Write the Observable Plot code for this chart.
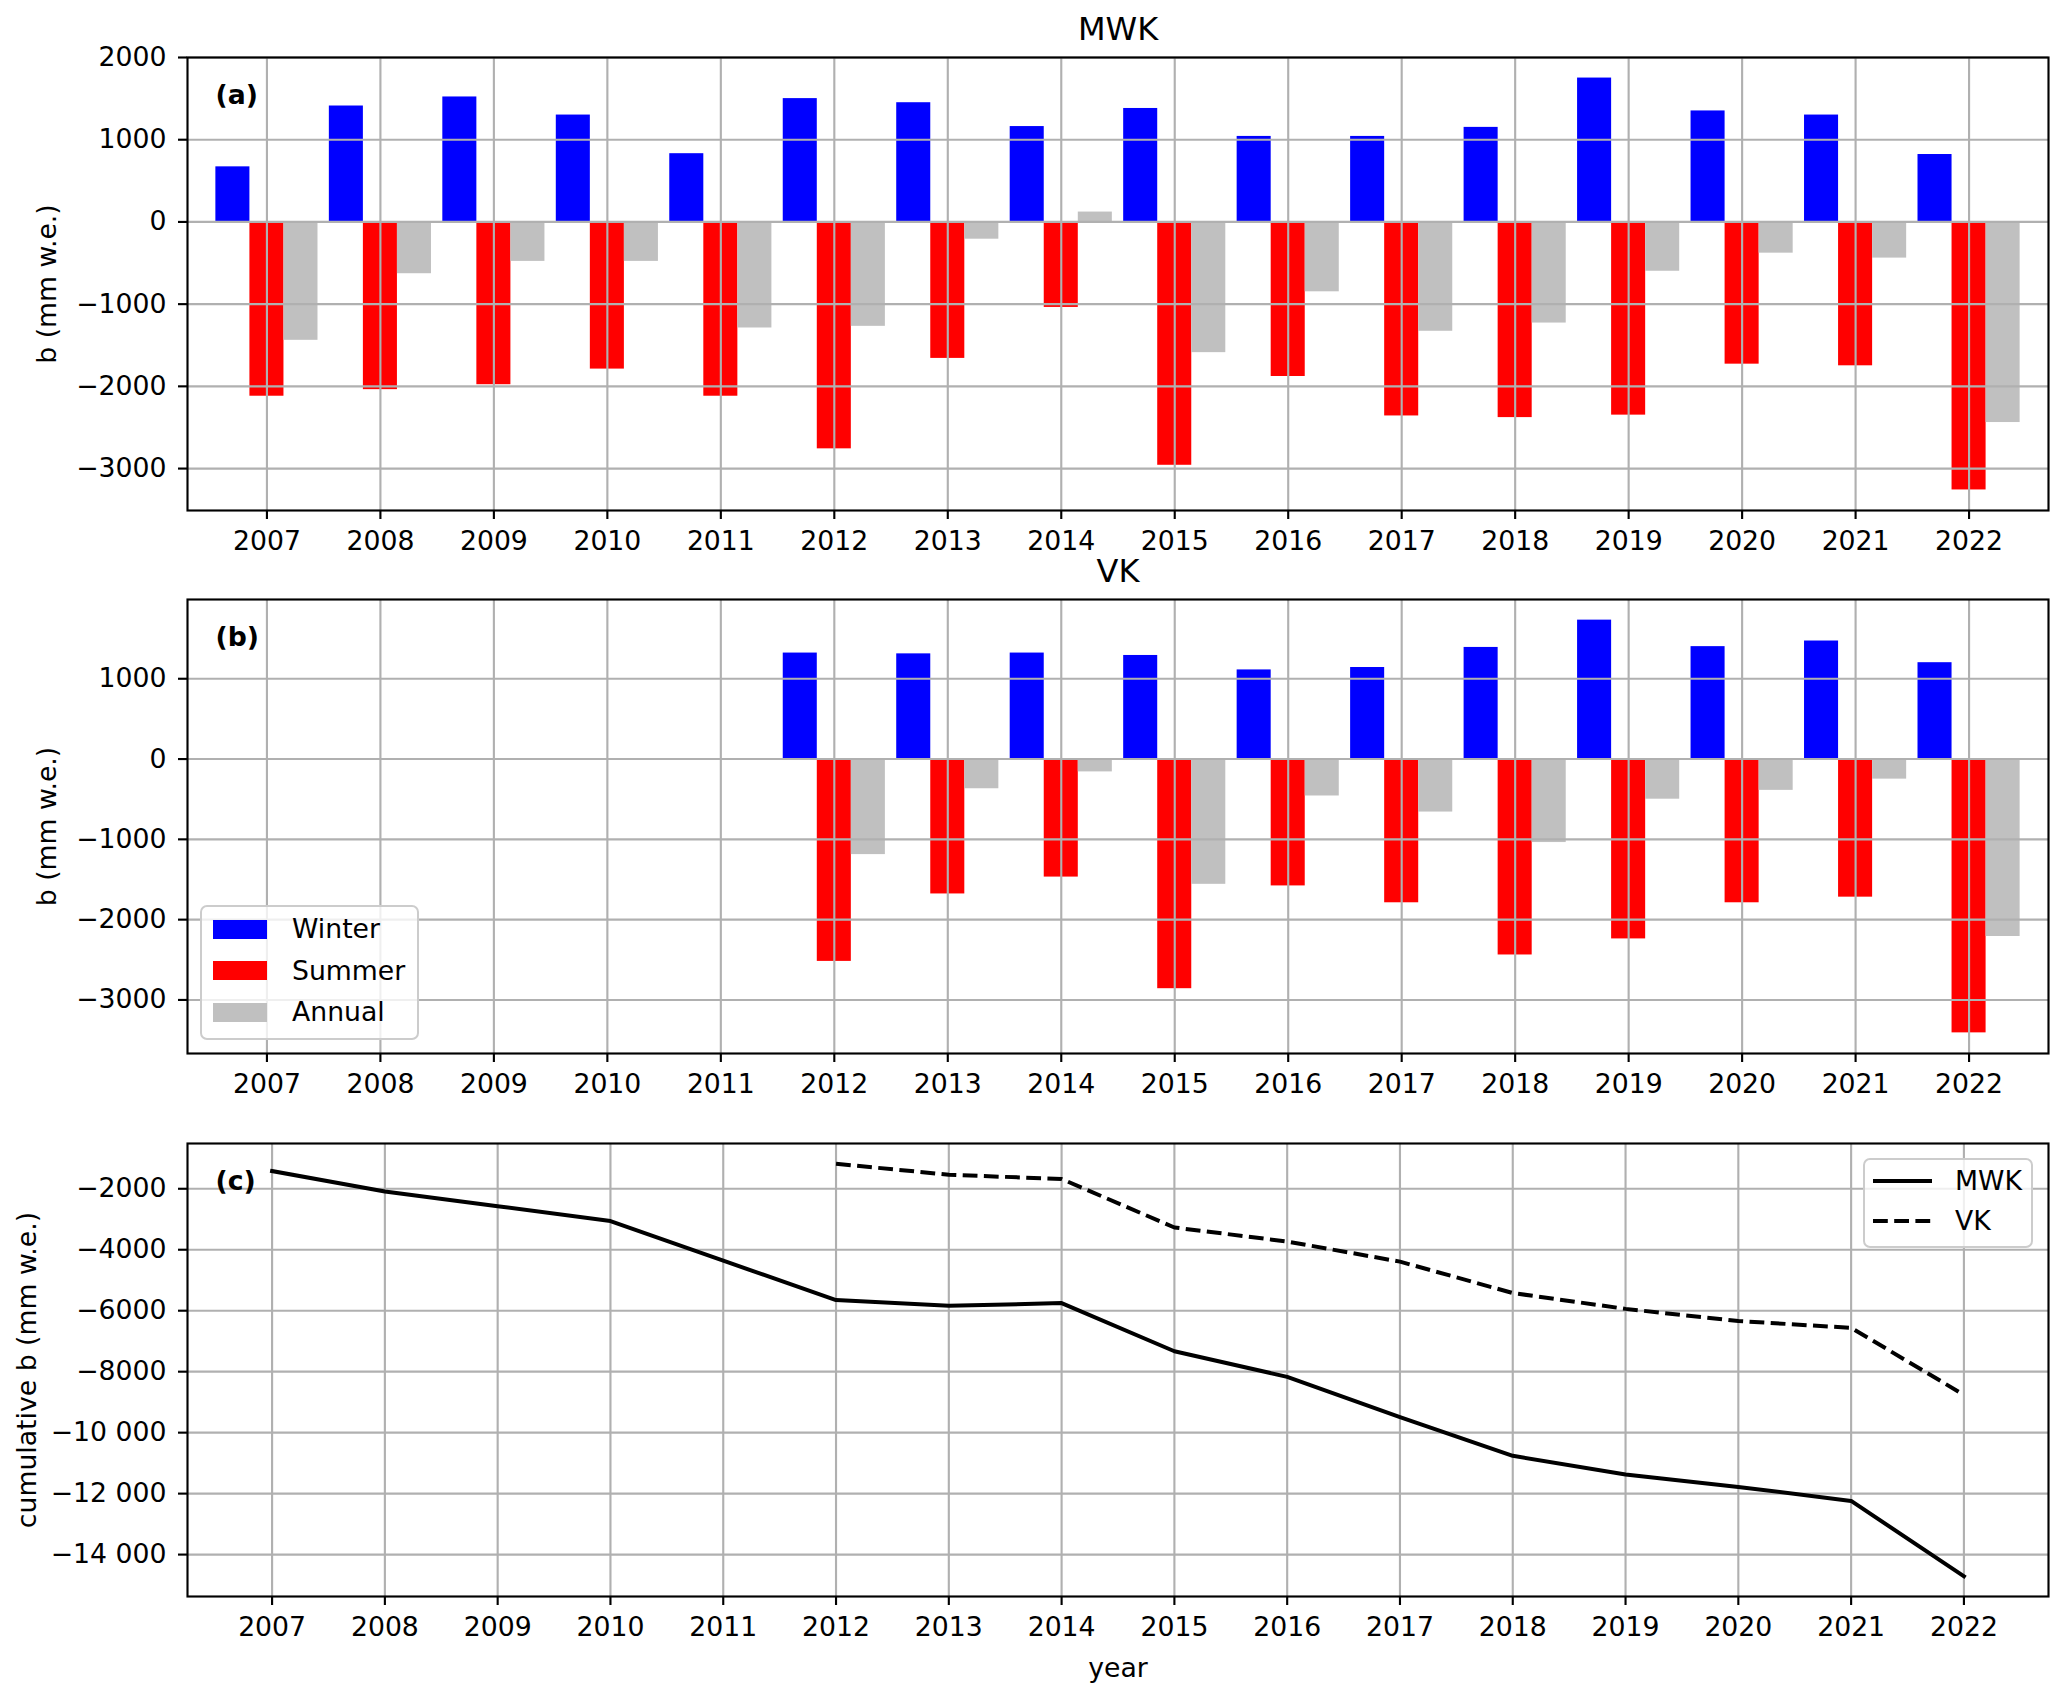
<!DOCTYPE html>
<html>
<head>
<meta charset="utf-8">
<script src="https://cdn.jsdelivr.net/npm/d3@7"></script>
<script src="https://cdn.jsdelivr.net/npm/@observablehq/plot@0.6"></script>
<style>
html, body { margin: 0; padding: 0; background: #ffffff; }
#wrap { position: relative; width: 2067px; height: 1701px; overflow: hidden; background: #ffffff; font-family: "DejaVu Sans", sans-serif; }
.panel { position: absolute; left: 0; }
.panel svg { overflow: visible; display: block; }
.legend { position: absolute; box-sizing: border-box; border: 2px solid #cccccc; border-radius: 7px; background: rgba(255,255,255,0.8); }
.lg-text { position: absolute; font-family: "DejaVu Sans", sans-serif; font-size: 26.7px; line-height: 32px; height: 32px; color: #000; white-space: nowrap; }
.lg-swatch { position: absolute; }
.lg-line { position: absolute; overflow: visible; }
</style>
</head>
<body>
<div id="wrap"></div>
<script>
// ---------------- data ----------------
const years = [2007, 2008, 2009, 2010, 2011, 2012, 2013, 2014, 2015, 2016, 2017, 2018, 2019, 2020, 2021, 2022];
const mwkWinter = [670, 1410, 1520, 1300, 830, 1500, 1450, 1160, 1380, 1040, 1040, 1150, 1750, 1350, 1300, 820];
const mwkSummer = [-2120, -2040, -1980, -1790, -2120, -2760, -1660, -1040, -2960, -1880, -2360, -2380, -2350, -1730, -1750, -3260];
const mwkAnnual = [-1440, -630, -480, -480, -1290, -1270, -210, 120, -1590, -850, -1330, -1230, -600, -380, -440, -2440];

const vkYears = [2012, 2013, 2014, 2015, 2016, 2017, 2018, 2019, 2020, 2021, 2022];
const vkWinter = [1320, 1310, 1320, 1290, 1110, 1140, 1390, 1730, 1400, 1470, 1200];
const vkSummer = [-2520, -1680, -1470, -2860, -1580, -1790, -2440, -2240, -1790, -1720, -3410];
const vkAnnual = [-1190, -370, -160, -1560, -460, -660, -1040, -500, -390, -250, -2210];

const mwkCumulative = [-1420, -2090, -2570, -3060, -4360, -5650, -5840, -5750, -7330, -8170, -9490, -10760, -11370, -11780, -12240, -14710];
const vkCumulative = [-1180, -1540, -1680, -3270, -3730, -4390, -5420, -5940, -6340, -6560, -8760];

const seasons = ["Winter", "Summer", "Annual"];
const seasonColors = ["#0000ff", "#ff0000", "#c0c0c0"];
const seasonOffsets = [-0.3, 0, 0.3];
const barWidth = 0.3;

const ticksA = [-3000, -2000, -1000, 0, 1000, 2000];
const ticksB = [-3000, -2000, -1000, 0, 1000];
const ticksC = [-14000, -12000, -10000, -8000, -6000, -4000, -2000];

const glacierNames = ["MWK", "VK"];
const lineDashes = [null, "14.8,6.4"];

// ---------------- helpers ----------------
const FONT = "DejaVu Sans";
const FS = 26.7;
const GRID = "#b0b0b0";
const LW = 2.13;

function fmtTick(d) {
  const a = Math.abs(d);
  let s = a >= 10000 ? d3.format(",")(a).replace(/,/g, " ") : String(a);
  return (d < 0 ? "\u2212" : "") + s;
}

function barRows(ys, w, s, a) {
  const cols = [w, s, a];
  const rows = [];
  ys.forEach((yr, i) => {
    seasons.forEach((season, k) => {
      rows.push({year: yr, season, offset: seasonOffsets[k], value: cols[k][i]});
    });
  });
  return rows;
}

function baseStyle() {
  return {fontFamily: FONT, fontSize: FS + "px", color: "black", background: "transparent", overflow: "visible"};
}

function barPanel({rows, yDomain, yTicks, title, tag, height, marginTop, marginBottom}) {
  return Plot.plot({
    width: 2067,
    height,
    marginTop,
    marginBottom,
    marginLeft: 187,
    marginRight: 19,
    style: baseStyle(),
    x: {domain: [2006.3, 2022.7]},
    y: {domain: yDomain},
    color: {domain: seasons, range: seasonColors},
    marks: [
      Plot.rect(rows, {
        x1: d => d.year + d.offset - barWidth / 2,
        x2: d => d.year + d.offset + barWidth / 2,
        y1: () => 0,
        y2: "value",
        fill: "season"
      }),
      Plot.gridX({ticks: years, stroke: GRID, strokeOpacity: 1, strokeWidth: LW}),
      Plot.gridY({ticks: yTicks, stroke: GRID, strokeOpacity: 1, strokeWidth: LW}),
      Plot.axisX({ticks: years, tickFormat: d => String(d), tickSize: 9, tickPadding: 12, fontSize: FS, strokeWidth: LW, label: null}),
      Plot.axisY({ticks: yTicks, tickFormat: fmtTick, tickSize: 9, tickPadding: 12, fontSize: FS, strokeWidth: LW, label: null}),
      Plot.frame({stroke: "black", strokeWidth: LW}),
      Plot.text([title], {text: d => d, frameAnchor: "top", dy: -28, fontSize: 32, fill: "black", textAnchor: "middle", lineAnchor: "middle"}),
      Plot.text([tag], {text: d => d, frameAnchor: "top-left", dx: 28, dy: 38, textAnchor: "start", lineAnchor: "middle", fontWeight: "bold", fontSize: FS, fill: "black"}),
      Plot.text(["b (mm w.e.)"], {text: d => d, frameAnchor: "left", rotate: -90, dx: -140, textAnchor: "middle", lineAnchor: "middle", fontSize: FS, fill: "black"})
    ]
  });
}

// ---------------- panels ----------------
const wrap = document.getElementById("wrap");

function place(node, top) {
  const div = document.createElement("div");
  div.className = "panel";
  div.style.top = top + "px";
  div.appendChild(node);
  wrap.appendChild(div);
}

const panelA = barPanel({
  rows: barRows(years, mwkWinter, mwkSummer, mwkAnnual),
  yDomain: [-3510, 2000], yTicks: ticksA, title: "MWK", tag: "(a)",
  height: 600, marginTop: 57, marginBottom: 90
});
place(panelA, 0);

const panelB = barPanel({
  rows: barRows(vkYears, vkWinter, vkSummer, vkAnnual),
  yDomain: [-3667, 1987], yTicks: ticksB, title: "VK", tag: "(b)",
  height: 600, marginTop: 59, marginBottom: 87
});
place(panelB, 540);

const mwkLine = years.map((y, i) => ({year: y, value: mwkCumulative[i], glacier: "MWK"}));
const vkLine = vkYears.map((y, i) => ({year: y, value: vkCumulative[i], glacier: "VK"}));

const panelC = Plot.plot({
  width: 2067,
  height: 601,
  marginTop: 43,
  marginBottom: 105,
  marginLeft: 187,
  marginRight: 19,
  style: baseStyle(),
  x: {domain: [2006.25, 2022.75]},
  y: {domain: [-15375, -515]},
  marks: [
    Plot.gridX({ticks: years, stroke: GRID, strokeOpacity: 1, strokeWidth: LW}),
    Plot.gridY({ticks: ticksC, stroke: GRID, strokeOpacity: 1, strokeWidth: LW}),
    Plot.line(mwkLine, {x: "year", y: "value", stroke: "black", strokeWidth: 4, strokeLinejoin: "round", strokeLinecap: "square"}),
    Plot.line(vkLine, {x: "year", y: "value", stroke: "black", strokeWidth: 4, strokeDasharray: lineDashes[1], strokeLinejoin: "round", strokeLinecap: "butt"}),
    Plot.axisX({ticks: years, tickFormat: d => String(d), tickSize: 9, tickPadding: 12, fontSize: FS, strokeWidth: LW, label: null}),
    Plot.axisY({ticks: ticksC, tickFormat: fmtTick, tickSize: 9, tickPadding: 12, fontSize: FS, strokeWidth: LW, label: null}),
    Plot.frame({stroke: "black", strokeWidth: LW}),
    Plot.text(["(c)"], {text: d => d, frameAnchor: "top-left", dx: 28, dy: 38, textAnchor: "start", lineAnchor: "middle", fontWeight: "bold", fontSize: FS, fill: "black"}),
    Plot.text(["cumulative b (mm w.e.)"], {text: d => d, frameAnchor: "left", rotate: -90, dx: -160, textAnchor: "middle", lineAnchor: "middle", fontSize: FS, fill: "black"}),
    Plot.text(["year"], {text: d => d, frameAnchor: "bottom", dy: 72, textAnchor: "middle", lineAnchor: "middle", fontSize: FS, fill: "black"})
  ]
});
place(panelC, 1100);

// ---------------- legends ----------------
function addLegendBox(left, top, w, h) {
  const box = document.createElement("div");
  box.className = "legend";
  Object.assign(box.style, {left: left + "px", top: top + "px", width: w + "px", height: h + "px"});
  wrap.appendChild(box);
}
function addText(txt, left, cy) {
  const t = document.createElement("div");
  t.className = "lg-text";
  t.textContent = txt;
  Object.assign(t.style, {left: left + "px", top: (cy - 16) + "px"});
  wrap.appendChild(t);
}

// legend (b): seasons
addLegendBox(200, 905, 219, 135);
const rowB = [929, 970.5, 1012];
seasons.forEach((s, i) => {
  const sw = document.createElement("div");
  sw.className = "lg-swatch";
  Object.assign(sw.style, {left: "213px", top: (rowB[i] - 9.5) + "px", width: "54px", height: "19px", background: seasonColors[i]});
  wrap.appendChild(sw);
  addText(s, 292, rowB[i]);
});

// legend (c): glaciers
addLegendBox(1863, 1158, 170, 90);
const rowC = [1181, 1221];
glacierNames.forEach((g, i) => {
  const ns = "http://www.w3.org/2000/svg";
  const svg = document.createElementNS(ns, "svg");
  svg.setAttribute("class", "lg-line");
  svg.setAttribute("width", "64");
  svg.setAttribute("height", "10");
  svg.style.left = "1871px";
  svg.style.top = (rowC[i] - 5) + "px";
  const ln = document.createElementNS(ns, "line");
  ln.setAttribute("x1", "2"); ln.setAttribute("x2", "61");
  ln.setAttribute("y1", "5"); ln.setAttribute("y2", "5");
  ln.setAttribute("stroke", "black");
  ln.setAttribute("stroke-width", "4");
  if (lineDashes[i]) ln.setAttribute("stroke-dasharray", lineDashes[i]);
  svg.appendChild(ln);
  wrap.appendChild(svg);
  addText(g, 1955, rowC[i]);
});
</script>
</body>
</html>
